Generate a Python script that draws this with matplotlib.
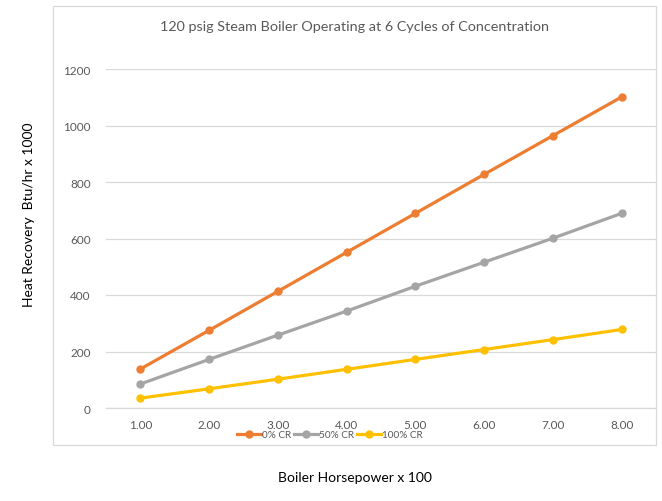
import matplotlib
matplotlib.use("Agg")
import matplotlib.pyplot as plt
from matplotlib.patches import Rectangle

W, H = 662, 502

horsepower = [1, 2, 3, 4, 5, 6, 7, 8]
tick_labels = ["1.00", "2.00", "3.00", "4.00", "5.00", "6.00", "7.00", "8.00"]
cr0 = [138, 275, 413, 551, 689, 827, 964, 1101]
cr50 = [85, 172, 258, 343, 431, 516, 601, 689]
cr100 = [35, 68, 102, 137, 172, 207, 242, 278]
series_names = ["0% CR", "50% CR", "100% CR"]
colors = ["#ED7D31", "#A5A5A5", "#FFC000"]

plt.rcParams["font.family"] = ["Lato", "DejaVu Sans"]

fig = plt.figure(figsize=(W / 100, H / 100), dpi=100)
fig.patch.set_facecolor("white")

# outer chart border
fig.add_artist(Rectangle((53 / W, 1 - 446 / H), (656 - 53) / W, (446 - 7) / H,
                         transform=fig.transFigure, fill=False,
                         edgecolor="#D9D9D9", linewidth=0.9))

ax = fig.add_axes([106 / W, 1 - 409 / H, (656 - 106) / W, (409 - 70) / H])
for ys, name, c in zip([cr0, cr50, cr100], series_names, colors):
    ax.plot(horsepower, ys, color=c, lw=2.3, marker="o", ms=5, label=name)

ax.set_xlim(0.5, 8.5)
ax.set_ylim(0, 1200)
ax.set_yticks(range(0, 1201, 200))
ax.set_xticks(horsepower)
ax.set_xticklabels(tick_labels)
ax.grid(axis="y", color="#D9D9D9", lw=0.9)
ax.set_axisbelow(True)
for s in ["top", "right", "left"]:
    ax.spines[s].set_visible(False)
ax.spines["bottom"].set_color("#D9D9D9")
ax.spines["bottom"].set_linewidth(0.9)
ax.tick_params(length=0, colors="#595959", labelsize=8.5)
ax.tick_params(axis="y", pad=11)
ax.tick_params(axis="x", pad=8)

fig.text(354.5 / W, 1 - 27 / H, "120 psig Steam Boiler Operating at 6 Cycles of Concentration",
         ha="center", va="center", fontsize=10.4, color="#595959")
fig.text(354.5 / W, 1 - 478 / H, "Boiler Horsepower x 100",
         ha="center", va="center", fontsize=10, color="black")
fig.text(29 / W, 1 - 215 / H, "Heat Recovery  Btu/hr x 1000", rotation=90,
         ha="center", va="center", fontsize=10, color="black")

ax.legend(loc="center", bbox_to_anchor=(330 / W, 1 - 436 / H),
          bbox_transform=fig.transFigure, ncol=3, frameon=False,
          fontsize=7.2, labelcolor="#595959", handlelength=2.4,
          columnspacing=0.3, handletextpad=0.1, borderpad=0)

fig.savefig("out.png", dpi=100)
